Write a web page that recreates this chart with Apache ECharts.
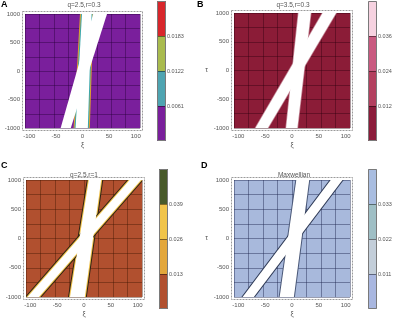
<!DOCTYPE html>
<html>
<head>
<meta charset="utf-8">
<script src="https://cdn.jsdelivr.net/npm/echarts@6/dist/echarts.min.js"></script>
<style>
  html, body { margin: 0; padding: 0; background: #fff; }
  #chart { width: 400px; height: 321px; }
</style>
</head>
<body>
<div id="chart"></div>
<script>
// ---- data ----
var xiTicks = [-100, -50, 0, 50, 100];
var tauTicks = [-1000, -500, 0, 500, 1000];

var panelTags = ['A', 'B', 'C', 'D'];
var panelTitles = ['q=2.5,r=0.3', 'q=3.5,r=0.3', 'q=2.5,r=1', 'Maxwellian'];

// contour levels of each colour bar (bottom .. top)
var breaksA = [0, 0.0061, 0.0122, 0.0183, 0.0244];
var breaksB = [0, 0.012, 0.024, 0.036, 0.048];
var breaksC = [0, 0.013, 0.026, 0.039, 0.052];
var breaksD = [0, 0.011, 0.022, 0.033, 0.044];
var labelsA = ['0.0061', '0.0122', '0.0183'];
var labelsB = ['0.012', '0.024', '0.036'];
var labelsC = ['0.013', '0.026', '0.039'];
var labelsD = ['0.011', '0.022', '0.033'];

// empty (white) bands, corners as [xi, tau]: bottom-left, bottom-right, top-right, top-left
var steepA = [[-13, -1000], [10, -1000], [17, 1000], [-1, 1000]];
var shallowA = [[-41, -1000], [-22, -1000], [46, 1000], [20, 1000]];
var steepB = [[-11, -1000], [10, -1000], [35, 1000], [12, 1000]];
var shallowB = [[-68, -1000], [-45, -1000], [82, 1000], [57, 1000]];
var steepC = [[-26, -1000], [1.5, -1000], [32, 1000], [9, 1000]];
var shallowC = [[-105, -1000], [-84, -1000], [106, 1000], [85, 1000]];
var steepD = [[-23, -1000], [3.5, -1000], [32, 1000], [8, 1000]];
var shallowD = [[-92, -1000], [-71, -1000], [94, 1000], [72, 1000]];

// ---- layout / style ----
var FONT = '"Liberation Sans", Arial, sans-serif';
var plotBoxes = [
  {left: 25, top: 14, width: 115, height: 114},
  {left: 234, top: 13, width: 116, height: 115},
  {left: 26, top: 180, width: 116, height: 117},
  {left: 234, top: 180, width: 116, height: 117}
];
var barBoxes = [
  {left: 157, top: 1, width: 9, height: 140},
  {left: 368, top: 1, width: 9, height: 140},
  {left: 159, top: 169, width: 9, height: 140},
  {left: 368, top: 169, width: 9, height: 140}
];
var titlePos = [[84, 5], [293, 5], [84, 175], [294, 175]];
var tagPos = [[1, 5], [197, 5], [1, 166], [201, 166]];

var panels = [
  {breaks: breaksA, labels: labelsA, steep: steepA, shallow: shallowA,
   fill: '#7a1f9c', gridLine: 'rgba(35,0,55,0.4)',
   bar: ['#7a1f9c', '#4ea4b1', '#a9bb4e', '#d8262b'],
   steepEdge: [[4, '#e0a030'], [2, '#3ba7ab']], shallowEdge: []},
  {breaks: breaksB, labels: labelsB, steep: steepB, shallow: shallowB,
   fill: '#8b1c37', gridLine: 'rgba(45,0,12,0.4)',
   bar: ['#8b1c3a', '#b3405f', '#c95a80', '#f6d2e0'],
   steepEdge: [[1.5, '#c08090']], shallowEdge: [[1.5, '#c08090']]},
  {breaks: breaksC, labels: labelsC, steep: steepC, shallow: shallowC,
   fill: '#b1502f', gridLine: 'rgba(60,20,0,0.4)',
   bar: ['#b1502f', '#e3a73c', '#f1c44a', '#485a2a'],
   steepEdge: [[4, '#2e2414'], [2, '#f1c24a']], shallowEdge: [[4, '#2e2414'], [2, '#f1c24a']]},
  {breaks: breaksD, labels: labelsD, steep: steepD, shallow: shallowD,
   fill: '#a8b9dc', gridLine: 'rgba(30,40,80,0.45)',
   bar: ['#a9b7e0', '#c3ced9', '#9fbfc5', '#a9bde0'],
   steepEdge: [[2, '#4a5878']], shallowEdge: [[2, '#2e3a56']]}
];

// stretch a band a bit past tau = +-1000 so its strokes get clipped at the frame
function stretch(b) {
  var f = 0.1;
  function ext(a, c) { return [a[0] + (a[0] - c[0]) * f, a[1] + (a[1] - c[1]) * f]; }
  return [ext(b[0], b[3]), ext(b[1], b[2]), ext(b[2], b[1]), ext(b[3], b[0])];
}

// one series per band and layer: stroke (color given) or white fill
function bandSeries(p, band, width, color) {
  return {
    type: 'custom', xAxisIndex: p, yAxisIndex: p, clip: true, silent: true,
    encode: {x: 0, y: 1},
    data: [[band[0][0], band[0][1]]],
    renderItem: function (params, api) {
      var pts = stretch(band).map(function (v) { return api.coord(v); });
      var style = color ? {fill: 'none', stroke: color, lineWidth: width, lineJoin: 'round'}
                        : {fill: '#ffffff', stroke: 'none', lineWidth: 0};
      return {type: 'polygon', shape: {points: pts}, style: style};
    }
  };
}

var grids = [], xAxes = [], yAxes = [], series = [], graphics = [];

panels.forEach(function (pn, i) {
  var box = plotBoxes[i];
  grids.push({left: box.left, top: box.top, width: box.width, height: box.height,
              show: true, backgroundColor: pn.fill, borderWidth: 0});
  xAxes.push({
    type: 'value', gridIndex: i, min: -108, max: 108, interval: 27,
    axisLine: {show: false}, axisTick: {show: false},
    splitLine: {show: true, lineStyle: {color: pn.gridLine, width: 1}},
    axisLabel: {customValues: xiTicks, fontSize: 6, color: '#555', margin: 5, fontFamily: FONT},
    name: 'ξ', nameLocation: 'middle', nameGap: 14,
    nameTextStyle: {fontSize: 7, color: '#555', fontFamily: FONT}
  });
  yAxes.push({
    type: 'value', gridIndex: i, min: -1000, max: 1000, interval: 250,
    axisLine: {show: false}, axisTick: {show: false},
    splitLine: {show: true, lineStyle: {color: pn.gridLine, width: 1}},
    axisLabel: {
      fontSize: 6, color: '#555', margin: 5, fontFamily: FONT,
      showMinLabel: true, showMaxLabel: true,
      formatter: function (v) { return tauTicks.indexOf(v) >= 0 ? String(v) : ''; }
    },
    name: (i % 2 === 1) ? 'τ' : '', nameLocation: 'middle', nameGap: 26, nameRotate: 0,
    nameTextStyle: {fontSize: 7, color: '#555', fontFamily: FONT}
  });

  pn.steepEdge.forEach(function (e) { series.push(bandSeries(i, pn.steep, e[0], e[1])); });
  pn.shallowEdge.forEach(function (e) { series.push(bandSeries(i, pn.shallow, e[0], e[1])); });
  series.push(bandSeries(i, pn.steep, 0, null));
  series.push(bandSeries(i, pn.shallow, 0, null));

  graphics.push({
    type: 'rect', z: 100, silent: true,
    shape: {x: box.left - 2.5, y: box.top - 2.5, width: box.width + 5, height: box.height + 5},
    style: {fill: null, stroke: '#9a9a9a', lineWidth: 1, lineDash: [2, 1]}
  });
  graphics.push({
    type: 'text', x: titlePos[i][0], y: titlePos[i][1], silent: true,
    style: {text: panelTitles[i], font: '6.5px ' + FONT, fill: '#555', align: 'center', verticalAlign: 'middle'}
  });
  graphics.push({
    type: 'text', x: tagPos[i][0], y: tagPos[i][1], silent: true,
    style: {text: panelTags[i], font: 'bold 9px ' + FONT, fill: '#000', align: 'left', verticalAlign: 'middle'}
  });
});

// colour bars
panels.forEach(function (pn, i) {
  var g = 4 + i, box = barBoxes[i], br = pn.breaks, step = br[1];
  grids.push({left: box.left, top: box.top, width: box.width, height: box.height});
  xAxes.push({type: 'value', gridIndex: g, min: 0, max: 1, show: false});
  yAxes.push({
    type: 'value', gridIndex: g, position: 'right', min: 0, max: br[br.length - 1], interval: step,
    axisLine: {show: false}, splitLine: {show: false},
    axisTick: {show: true, length: 3, customValues: br.slice(1, -1), lineStyle: {color: '#444'}},
    axisLabel: {
      customValues: br.slice(1, -1), fontSize: 5.5, color: '#555', margin: 1, fontFamily: FONT,
      formatter: function (v) {
        var k = Math.round(v / step);
        return (k >= 1 && k <= pn.labels.length) ? pn.labels[k - 1] : '';
      }
    }
  });
  series.push({
    type: 'custom', xAxisIndex: g, yAxisIndex: g, silent: true,
    encode: {x: 0, y: [1, 2]},
    data: br.slice(0, -1).map(function (b, k) { return [0, b, br[k + 1]]; }),
    renderItem: function (params, api) {
      var lo = api.coord([0, api.value(1)]);
      var hi = api.coord([1, api.value(2)]);
      var k = params.dataIndex;
      var kids = [{type: 'rect', shape: {x: lo[0], y: hi[1], width: hi[0] - lo[0], height: lo[1] - hi[1]},
                   style: {fill: pn.bar[k]}}];
      if (k > 0) {
        kids.push({type: 'line', shape: {x1: lo[0], y1: Math.round(lo[1]) + 0.5, x2: hi[0], y2: Math.round(lo[1]) + 0.5},
                   style: {stroke: 'rgba(0,0,0,0.45)', lineWidth: 1}});
      }
      return {type: 'group', children: kids};
    }
  });
  graphics.push({
    type: 'rect', z: 100, silent: true,
    shape: {x: box.left + 0.5, y: box.top + 0.5, width: box.width - 1, height: box.height - 1},
    style: {fill: null, stroke: '#7a7a7a', lineWidth: 1}
  });
});

var chart = echarts.init(document.getElementById('chart'), null, {renderer: 'canvas'});
chart.setOption({
  animation: false,
  grid: grids,
  xAxis: xAxes,
  yAxis: yAxes,
  series: series,
  graphic: graphics
});
</script>
</body>
</html>
